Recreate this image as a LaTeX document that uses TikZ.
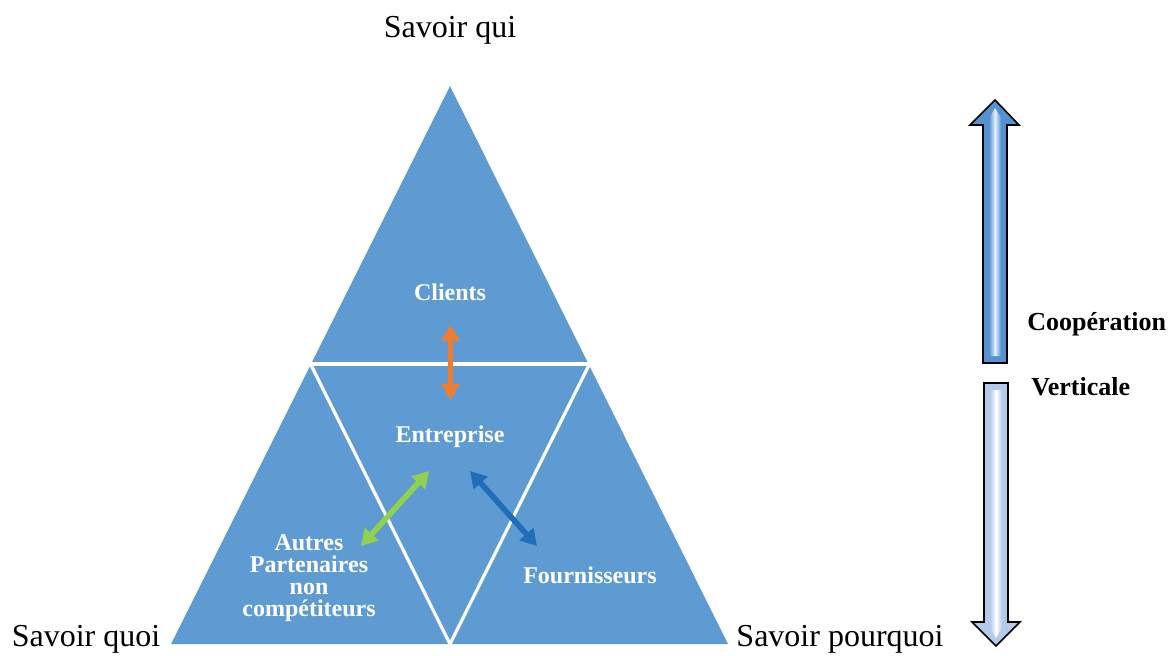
\documentclass[tikz,border=0pt]{standalone}
\usepackage{fontspec}
\setmainfont{Liberation Serif}
\usetikzlibrary{arrows.meta}
\definecolor{triblue}{HTML}{5F9BD3}
\definecolor{arrorange}{HTML}{ED7D31}
\definecolor{arrgreen}{HTML}{92D050}
\definecolor{arrblue}{HTML}{1F6FB8}
\definecolor{upedge}{HTML}{5593D0}
\definecolor{upmid}{HTML}{E6F2FC}
\definecolor{downedge}{HTML}{B5C9E8}
\definecolor{downmid}{HTML}{FFFFFF}
\tikzset{
  divider/.style={draw=white, line width=1.6pt},
  big/.style={font=\fontsize{16}{18}\selectfont, inner sep=0pt},
  inlabel/.style={text=white, font=\bfseries\fontsize{12}{11}\selectfont, inner sep=0pt, align=center},
  sidelabel/.style={font=\bfseries\fontsize{13}{15}\selectfont, inner sep=0pt},
  link/.style={line width=2.8pt, {Triangle[width=9pt,length=8pt]}-{Triangle[width=9pt,length=8pt]}},
  blockarrow/.style={draw=black, line width=0.8pt, line join=miter}
}
\begin{document}
\begin{tikzpicture}[x=0.5pt, y=-0.5pt]
\useasboundingbox (0,0) rectangle (1171,655);
% main triangle
\coordinate (apex) at (450,86);
\coordinate (bl) at (171,644);
\coordinate (br) at (728,644);
\coordinate (ml) at (310.5,364);
\coordinate (mr) at (589.5,364);
\coordinate (mb) at (450,644);
\fill[triblue] (apex) -- (bl) -- (br) -- cycle;
\draw[divider] (ml) -- (mr);
\draw[divider] (ml) -- (mb) -- (mr);

% labels
\node[big, anchor=base] (qui) at (450,37) {Savoir qui};
\node[big, anchor=base] (quoi) at (86,646) {Savoir quoi};
\node[big, anchor=base] (pourquoi) at (840,646) {Savoir pourquoi};
\node[inlabel, anchor=base] (clients) at (450,300) {Clients};
\node[inlabel, anchor=base] (entreprise) at (450,442) {Entreprise};
\node[inlabel, anchor=base] (fourn) at (590,583) {Fournisseurs};
\node[inlabel] (autres) at (309,578) {Autres\\Partenaires\\non\\compétiteurs};

% inner arrows
\coordinate (o1) at (450.5,325);
\coordinate (o2) at (450.5,400);
\coordinate (g1) at (429,471);
\coordinate (g2) at (361,546);
\coordinate (b1) at (470,471);
\coordinate (b2) at (537,546);
\draw[link, arrorange] (o1) -- (o2);
\draw[link, arrgreen] (g1) -- (g2);
\draw[link, arrblue] (b1) -- (b2);

% block arrows
\path[blockarrow, fill=upedge]
  (983,363) -- (983,125) -- (970,125) -- (995,100) -- (1019,125) -- (1007,125) -- (1007,363) -- cycle;
\shade[left color=upedge, right color=upedge, middle color=upmid]
  (989,356) -- (989,118) -- (995,108) -- (1001,118) -- (1001,356) -- cycle;
\path[blockarrow, fill=downedge]
  (984,383) -- (984,622) -- (972,622) -- (996,646) -- (1020,622) -- (1008,622) -- (1008,383) -- cycle;
\shade[left color=downedge, right color=downedge, middle color=downmid]
  (990,390) -- (990,628) -- (996,638) -- (1002,628) -- (1002,390) -- cycle;
\node[sidelabel, anchor=base west] (coop) at (1027,330) {Coopération};
\node[sidelabel, anchor=base west] (vert) at (1031,395) {Verticale};
\end{tikzpicture}
\end{document}
